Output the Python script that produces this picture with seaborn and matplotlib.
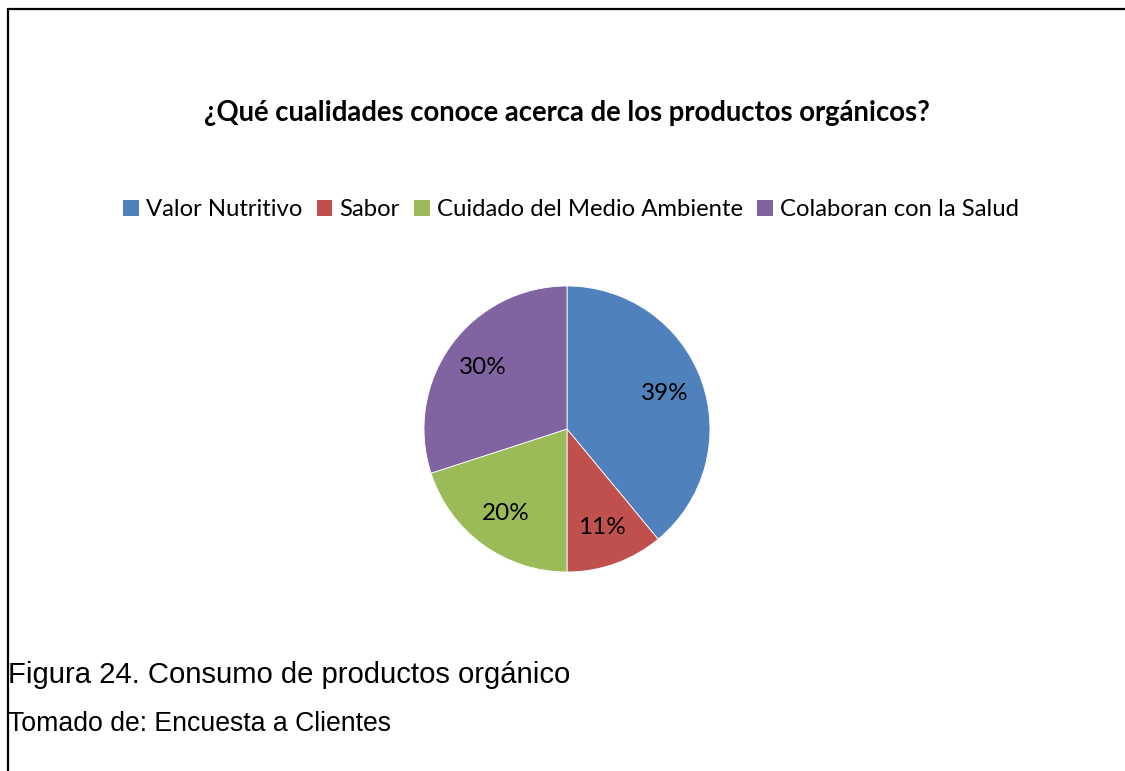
import matplotlib
matplotlib.use("Agg")
import matplotlib.pyplot as plt
from matplotlib.lines import Line2D
from matplotlib.patches import Patch
import seaborn as sns

# Survey answers: share of respondents per quality
categories = ["Valor Nutritivo", "Sabor", "Cuidado del Medio Ambiente", "Colaboran con la Salud"]
shares = [39, 11, 20, 30]
colors = ["#4F81BD", "#C0504D", "#9BBB59", "#8064A2"]

title = "¿Qué cualidades conoce acerca de los productos orgánicos?"
caption = "Figura 24. Consumo de productos orgánico"
source = "Tomado de: Encuesta a Clientes"

sns.set_theme(style="white")
plt.rcParams["text.color"] = "black"
palette = sns.color_palette(colors)

UI_FONT = ["Lato", "DejaVu Sans"]
DOC_FONT = ["Liberation Sans", "DejaVu Sans"]

W, H = 1125, 771
fig = plt.figure(figsize=(W / 100, H / 100), dpi=100)
fig.patch.set_facecolor("white")

# pie axes: centre (567, 429) px, radius 143 px
cx, cy, r = 567, 429, 143
ax = fig.add_axes([(cx - r) / W, (H - cy - r) / H, 2 * r / W, 2 * r / H])
wedges, _, autotexts = ax.pie(
    shares,
    colors=palette,
    startangle=90,
    counterclock=False,
    autopct=lambda p: f"{p:.0f}%",
    pctdistance=0.73,
    wedgeprops=dict(linewidth=0.6, edgecolor="white"),
    textprops=dict(fontsize=17.5, family=UI_FONT, color="black"),
)
ax.set_xlim(-1, 1)
ax.set_ylim(-1, 1)
ax.set_aspect("equal")
ax.axis("off")

fig.text(cx / W, 1 - 113 / H, title, ha="center", va="center",
         fontsize=19.8, fontweight="bold", family=UI_FONT, color="black")

handles = [Patch(facecolor=c, edgecolor="none") for c in palette]
leg = fig.legend(handles, categories, loc="center", bbox_to_anchor=(571 / W, 1 - 210 / H),
                 ncol=4, frameon=False, handlelength=0.65, handleheight=0.65,
                 handletextpad=0.3, columnspacing=0.6,
                 prop=dict(size=17.2, family=UI_FONT))
for t in leg.get_texts():
    t.set_color("black")

fig.text(8 / W, 1 - 675 / H, caption, ha="left", va="center",
         fontsize=21.1, family=DOC_FONT, color="black")
fig.text(8 / W, 1 - 724 / H, source, ha="left", va="center",
         fontsize=19.2, family=DOC_FONT, color="black")

# frame lines along top and left
fig.add_artist(Line2D([7.5 / W, 1.0], [1 - 9 / H, 1 - 9 / H], color="black", lw=1.6,
                      transform=fig.transFigure))
fig.add_artist(Line2D([7.5 / W, 7.5 / W], [0.0, 1 - 9 / H], color="black", lw=1.6,
                      transform=fig.transFigure))

fig.savefig("out.png", dpi=100, facecolor="white")
